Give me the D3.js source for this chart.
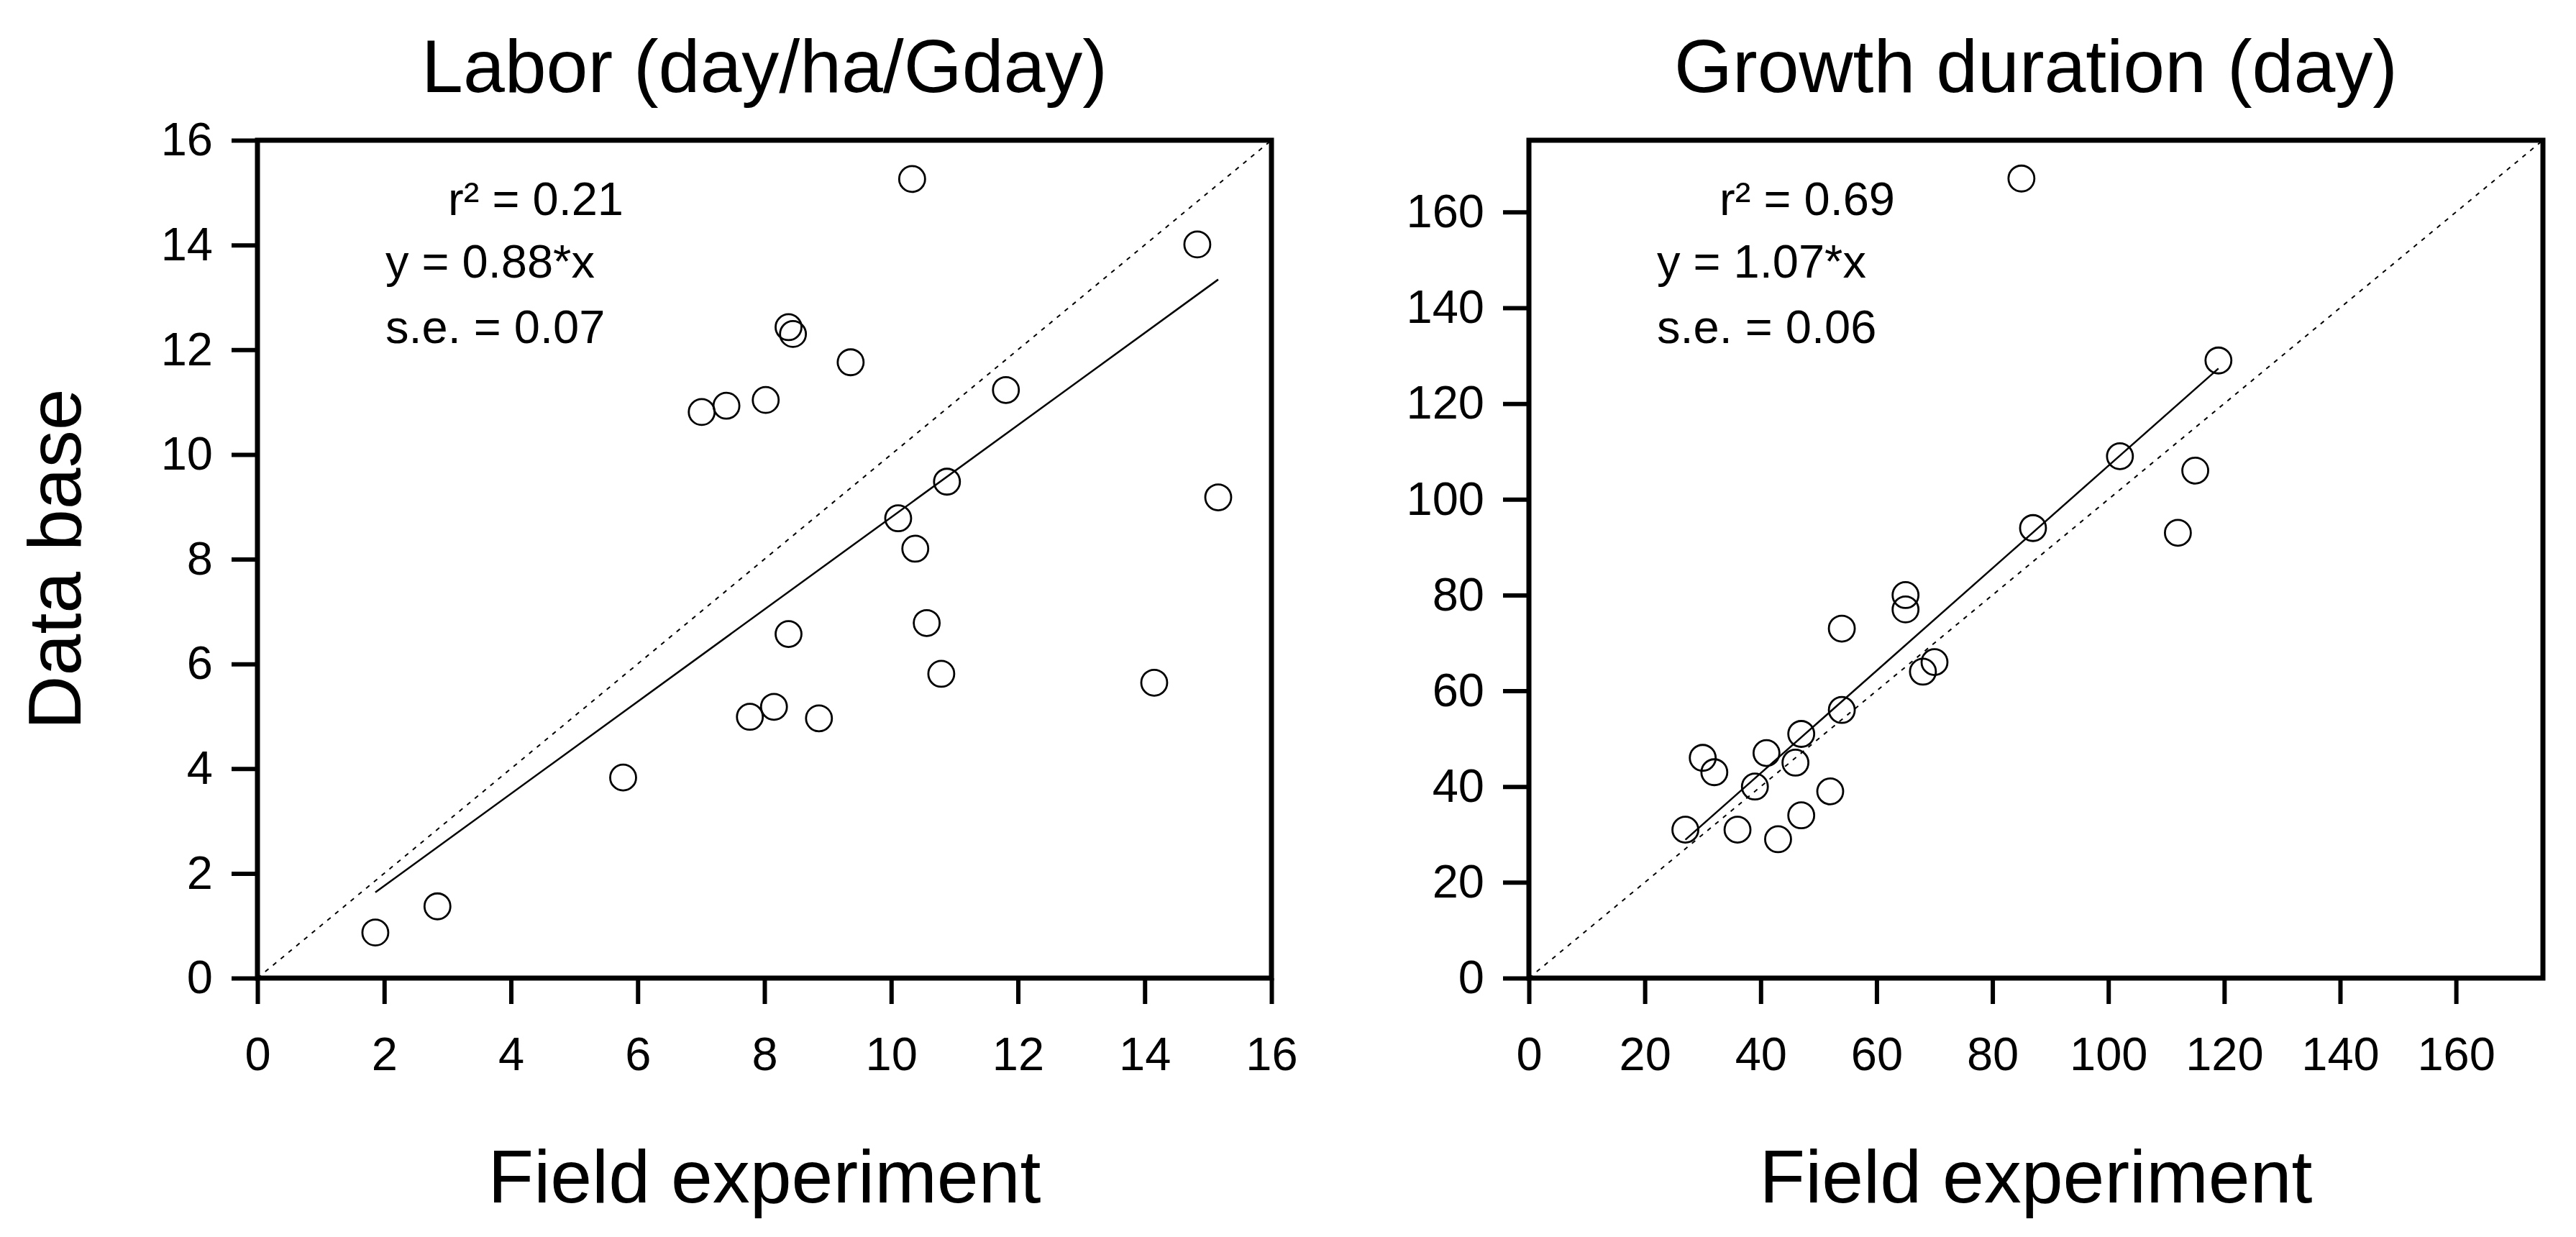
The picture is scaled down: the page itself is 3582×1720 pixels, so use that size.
<!DOCTYPE html>
<html>
<head>
<meta charset="utf-8">
<script src="https://cdn.jsdelivr.net/npm/d3@7"></script>
<style>
	body { margin: 0; background: #fff; }
	svg text { font-family: "Liberation Sans", Arial, sans-serif; fill: #000; }
</style>
</head>
<body>
<div class="mainviz"></div>
<script>
// Labor (day/ha/Gday): field experiment vs data base
var laborField = [10.33, 14.83, 8.38, 8.45, 9.36, 11.81, 7.01, 7.40, 8.02, 10.88, 15.16, 10.11,
	10.38, 8.38, 10.56, 10.79, 14.15, 7.77, 8.15, 8.86, 5.77, 2.84, 1.86];
var laborBase = [15.26, 14.01, 12.43, 12.30, 11.76, 11.23, 10.81, 10.93, 11.04, 9.48, 9.18, 8.78,
	8.20, 6.57, 6.78, 5.81, 5.64, 4.99, 5.18, 4.96, 3.83, 1.37, 0.87];
var laborTicks = [0, 2, 4, 6, 8, 10, 12, 14, 16];
var laborStats = ["r² = 0.21", "y = 0.88*x", "s.e. = 0.07"];
var laborSlope = 0.88;

// Growth duration (day)
var growthField = [85, 119, 102, 115, 112, 87, 65, 65, 54, 68, 70, 54, 47, 46, 41, 30, 32, 39, 52, 47, 27, 36, 43];
var growthBase = [167, 129, 109, 106, 93, 94, 80, 77, 73, 64, 66, 56, 51, 45, 47, 46, 43, 40, 39, 34, 31, 31, 29];
var growthTicks = [0, 20, 40, 60, 80, 100, 120, 140, 160];
var growthStats = ["r² = 0.69", "y = 1.07*x", "s.e. = 0.06"];
var growthSlope = 1.07;

var width = 3582, height = 1720;
var boxW = 1410, boxH = 1165, boxTop = 195;

var svg = d3.select(".mainviz").append("svg")
	.attr("width", width)
	.attr("height", height);

function drawPanel(left, title, xs, ys, ticks, maxV, stats, slope) {
	var g = svg.append("g")
		.attr("transform", "translate(" + left + "," + boxTop + ")");

	var x = d3.scaleLinear().domain([0, maxV]).range([0, boxW]);
	var y = d3.scaleLinear().domain([0, maxV]).range([boxH, 0]);

	// 1:1 line
	g.append("line")
		.attr("x1", x(0)).attr("y1", y(0))
		.attr("x2", x(maxV)).attr("y2", y(maxV))
		.attr("stroke", "#000")
		.attr("stroke-width", 2)
		.attr("stroke-dasharray", "6,8");

	// regression line through origin
	var xmin = d3.min(xs), xmax = d3.max(xs);
	g.append("line")
		.attr("x1", x(xmin)).attr("y1", y(slope * xmin))
		.attr("x2", x(xmax)).attr("y2", y(slope * xmax))
		.attr("stroke", "#000")
		.attr("stroke-width", 2.5);

	var pts = xs.map(function(d, i) { return { fx: d, db: ys[i] }; });
	g.selectAll("circle.pt")
		.data(pts)
		.enter().append("circle")
		.attr("class", "pt")
		.attr("cx", function(d) { return x(d.fx); })
		.attr("cy", function(d) { return y(d.db); })
		.attr("r", 18)
		.attr("fill", "none")
		.attr("stroke", "#000")
		.attr("stroke-width", 2.8);

	var yAxis = d3.axisLeft(y).tickValues(ticks).tickSize(36).tickSizeOuter(0).tickPadding(26);
	var xAxis = d3.axisBottom(x).tickValues(ticks).tickSize(36).tickSizeOuter(0).tickPadding(46);

	var ya = g.append("g").call(yAxis);
	var xa = g.append("g").attr("transform", "translate(0," + boxH + ")").call(xAxis);
	[ya, xa].forEach(function(a) {
		a.select(".domain").remove();
		a.selectAll("line").attr("stroke", "#000").attr("stroke-width", 6);
		a.selectAll("text").attr("font-size", 65).attr("fill", "#000")
			.style("font-family", "'Liberation Sans', Arial, sans-serif");
	});

	// frame
	g.append("rect")
		.attr("x", 0).attr("y", 0)
		.attr("width", boxW).attr("height", boxH)
		.attr("fill", "none")
		.attr("stroke", "#000")
		.attr("stroke-width", 7);

	// stats
	g.append("text").attr("x", 509).attr("y", 104).attr("text-anchor", "end")
		.attr("font-size", 65).text(stats[0]);
	g.append("text").attr("x", 178).attr("y", 191)
		.attr("font-size", 65).text(stats[1]);
	g.append("text").attr("x", 178).attr("y", 282)
		.attr("font-size", 65).text(stats[2]);

	// titles
	svg.append("text")
		.attr("x", left + boxW / 2).attr("y", 128)
		.attr("text-anchor", "middle")
		.attr("font-size", 104)
		.text(title);
	svg.append("text")
		.attr("x", left + boxW / 2).attr("y", 1672)
		.attr("text-anchor", "middle")
		.attr("font-size", 104)
		.text("Field experiment");
}

drawPanel(358, "Labor (day/ha/Gday)", laborField, laborBase, laborTicks, 16, laborStats, laborSlope);
drawPanel(2126, "Growth duration (day)", growthField, growthBase, growthTicks, 175, growthStats, growthSlope);

svg.append("text")
	.attr("transform", "translate(112," + (boxTop + boxH / 2) + ") rotate(-90)")
	.attr("text-anchor", "middle")
	.attr("font-size", 104)
	.text("Data base");
</script>
</body>
</html>
